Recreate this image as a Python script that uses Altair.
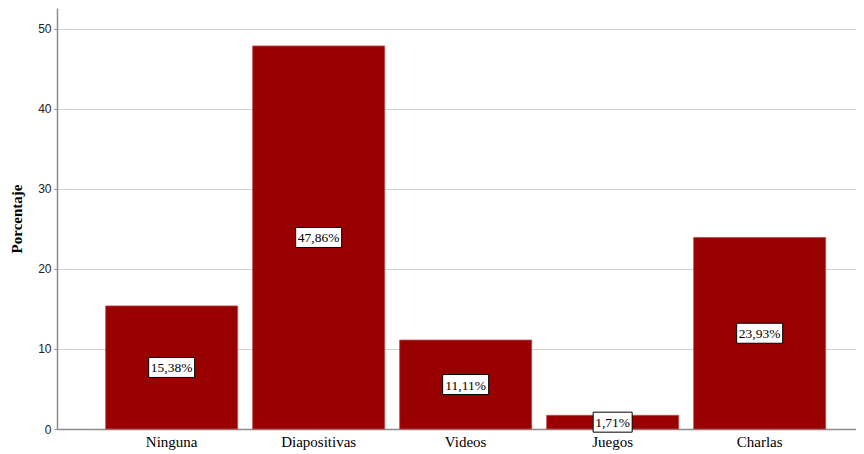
import altair as alt
import pandas as pd

categorias = ["Ninguna", "Diapositivas", "Videos", "Juegos", "Charlas"]
porcentajes = [15.38, 47.86, 11.11, 1.71, 23.93]
etiquetas = ["15,38%", "47,86%", "11,11%", "1,71%", "23,93%"]

df = pd.DataFrame({"cat": categorias, "pct": porcentajes, "label": etiquetas})

xscale = alt.Scale(domain=categorias, paddingInner=0.102, paddingOuter=0.2687, align=0.616)
yscale = alt.Scale(domain=[0, 52.6], nice=False, zero=True)

base = alt.Chart(df)

bars = base.mark_bar(color="#990000", stroke="#b84a4a", strokeWidth=0.8).encode(
    x=alt.X("cat:N", scale=xscale, sort=categorias, title=None,
            axis=alt.Axis(labelAngle=0, ticks=False, labelFont="Liberation Serif",
                          labelFontSize=15, labelColor="#000", labelPadding=5,
                          domainColor="#8c8c8c", domainWidth=1.5, grid=False)),
    y=alt.Y("pct:Q", scale=yscale, title="Porcentaje",
            axis=alt.Axis(values=[0, 10, 20, 30, 40, 50], tickSize=3, tickColor="#8c8c8c",
                          labelFont="Liberation Sans", labelFontSize=12, labelColor="#222",
                          labelPadding=3, domainColor="#8c8c8c", domainWidth=1.5,
                          grid=True, gridColor="#d0d0d0", gridWidth=1,
                          titleFont="Liberation Serif", titleFontSize=15, titleFontWeight="bold",
                          titleColor="#000", titlePadding=13)),
)

mid = base.transform_calculate(mid="datum.pct / 2")

box6 = mid.transform_filter("length(datum.label) >= 6").mark_rect(
    width=46, height=20, fill="white", stroke="black", strokeWidth=1
).encode(x=alt.X("cat:N", scale=xscale, sort=categorias), y=alt.Y("mid:Q", scale=yscale))

box5 = mid.transform_filter("length(datum.label) < 6").mark_rect(
    width=39, height=20, fill="white", stroke="black", strokeWidth=1
).encode(x=alt.X("cat:N", scale=xscale, sort=categorias), y=alt.Y("mid:Q", scale=yscale))

texts = mid.mark_text(font="Liberation Serif", fontSize=13.5, color="black", baseline="middle", dy=1).encode(
    x=alt.X("cat:N", scale=xscale, sort=categorias),
    y=alt.Y("mid:Q", scale=yscale),
    text="label:N",
)

chart = (bars + box6 + box5 + texts).properties(
    width=799, height=421,
    background="white",
    autosize=alt.AutoSizeParams(type="none"),
    padding={"left": 49, "top": 0, "right": 0, "bottom": 25},
).configure_view(stroke=None)

chart.save("out.html", embed_options={"renderer": "svg", "actions": False})
